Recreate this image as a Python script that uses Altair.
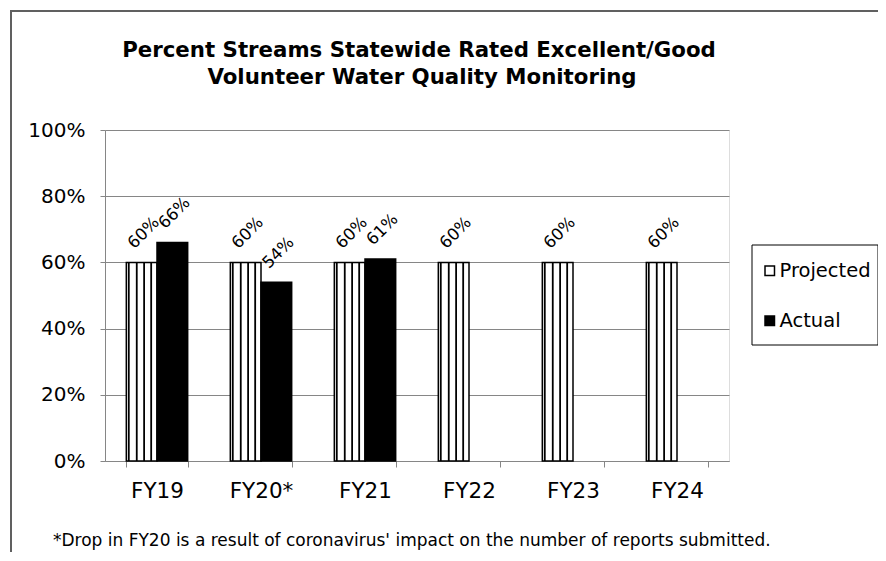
import altair as alt
import pandas as pd

categories = ["FY19", "FY20*", "FY21", "FY22", "FY23", "FY24"]
projected = [0.60, 0.60, 0.60, 0.60, 0.60, 0.60]
actual = [0.66, 0.54, 0.61, None, None, None]
series = ["Projected", "Actual"]
y_ticks = [0, 0.2, 0.4, 0.6, 0.8, 1.0]
title_lines = ["Percent Streams Statewide Rated Excellent/Good",
               "Volunteer Water Quality Monitoring"]
footnote = "*Drop in FY20 is a result of coronavirus' impact on the number of reports submitted."

FONT = "DejaVu Sans"
GRAY = "#868686"
W, H = 624, 331

rows = []
for c, p, a in zip(categories, projected, actual):
    rows.append({"FY": c, "series": "Projected", "value": p})
    if a is not None:
        rows.append({"FY": c, "series": "Actual", "value": a})
df = pd.DataFrame(rows)
proj_df = df[df["series"] == "Projected"]

x_enc = alt.X(
    "FY:N", sort=categories,
    scale=alt.Scale(paddingInner=0.41, paddingOuter=0.205),
    axis=alt.Axis(title=None, labelAngle=0, labelFont=FONT, labelFontSize=21.5,
                  labelColor="black", tickBand="extent", tickSize=6,
                  tickColor=GRAY, domainColor=GRAY, labelPadding=13, grid=False),
)
xoff = alt.XOffset("series:N", sort=series,
                   scale=alt.Scale(domain=series, paddingInner=0, paddingOuter=0))
y_enc = alt.Y(
    "value:Q", scale=alt.Scale(domain=[0, 1], nice=False),
    axis=alt.Axis(title=None, format=".0%", values=y_ticks, labelFont=FONT,
                  labelFontSize=20, labelColor="black", tickSize=5, tickColor=GRAY,
                  domainColor=GRAY, gridColor=GRAY, labelPadding=15),
)

frame = alt.Chart(pd.DataFrame({"k": [0]})).mark_rect(
    fillOpacity=0, stroke="#606060", strokeWidth=2
).encode(x=alt.value(-94), x2=alt.value(800), y=alt.value(-119), y2=alt.value(450))

bars = alt.Chart(df).mark_bar(stroke="black", strokeWidth=1.5).encode(
    x=x_enc, xOffset=xoff, y=y_enc,
    color=alt.Color("series:N", sort=series,
                    scale=alt.Scale(domain=series, range=["white", "black"]),
                    legend=alt.Legend(orient="none", legendX=655, legendY=131,
                                      title=None, symbolType="square", symbolSize=90,
                                      symbolStrokeColor="black", symbolStrokeWidth=1.5,
                                      labelFont=FONT, labelFontSize=19.5,
                                      labelColor="black", rowPadding=29,
                                      labelOffset=0, padding=0)),
)

stripe_fracs = [0.04, 0.17, 0.29, 0.405]
stripes = [
    alt.Chart(proj_df).mark_rule(color="black", strokeWidth=1.8).encode(
        x=alt.X("FY:N", sort=categories, bandPosition=f),
        y="value:Q", y2=alt.datum(0),
    )
    for f in stripe_fracs
]

labels = alt.Chart(df).mark_text(
    angle=315, align="center", baseline="middle", dx=22.3, dy=-19.4,
    font=FONT, fontSize=16.5, color="black"
).encode(x=alt.X("FY:N", sort=categories), xOffset=xoff, y="value:Q",
         text=alt.Text("value:Q", format=".0%"))

legend_box = alt.Chart(pd.DataFrame({"k": [0]})).mark_rect(
    fillOpacity=0, stroke="black", strokeWidth=1
).encode(x=alt.value(647), x2=alt.value(773), y=alt.value(115), y2=alt.value(215))

title1 = alt.Chart(pd.DataFrame({"t": [title_lines[0]]})).mark_text(
    font=FONT, fontSize=21.3, fontWeight="bold", color="black", baseline="alphabetic"
).encode(x=alt.value(314), y=alt.value(-73), text="t:N")
title2 = alt.Chart(pd.DataFrame({"t": [title_lines[1]]})).mark_text(
    font=FONT, fontSize=21.3, fontWeight="bold", color="black", baseline="alphabetic"
).encode(x=alt.value(317), y=alt.value(-46), text="t:N")
foot = alt.Chart(pd.DataFrame({"t": [footnote]})).mark_text(
    font=FONT, fontSize=17, color="black", align="left", baseline="middle"
).encode(x=alt.value(-52), y=alt.value(411), text="t:N")

chart = alt.layer(frame, bars, *stripes, labels, legend_box, title1, title2, foot).properties(
    width=W, height=H,
    autosize=alt.AutoSizeParams(type="none"),
    padding={"left": 97, "top": 122, "right": 149, "bottom": 91},
).configure_view(stroke=GRAY, strokeWidth=1).configure(background="white")

chart.save("out.html", embed_options={"renderer": "svg", "actions": False})
